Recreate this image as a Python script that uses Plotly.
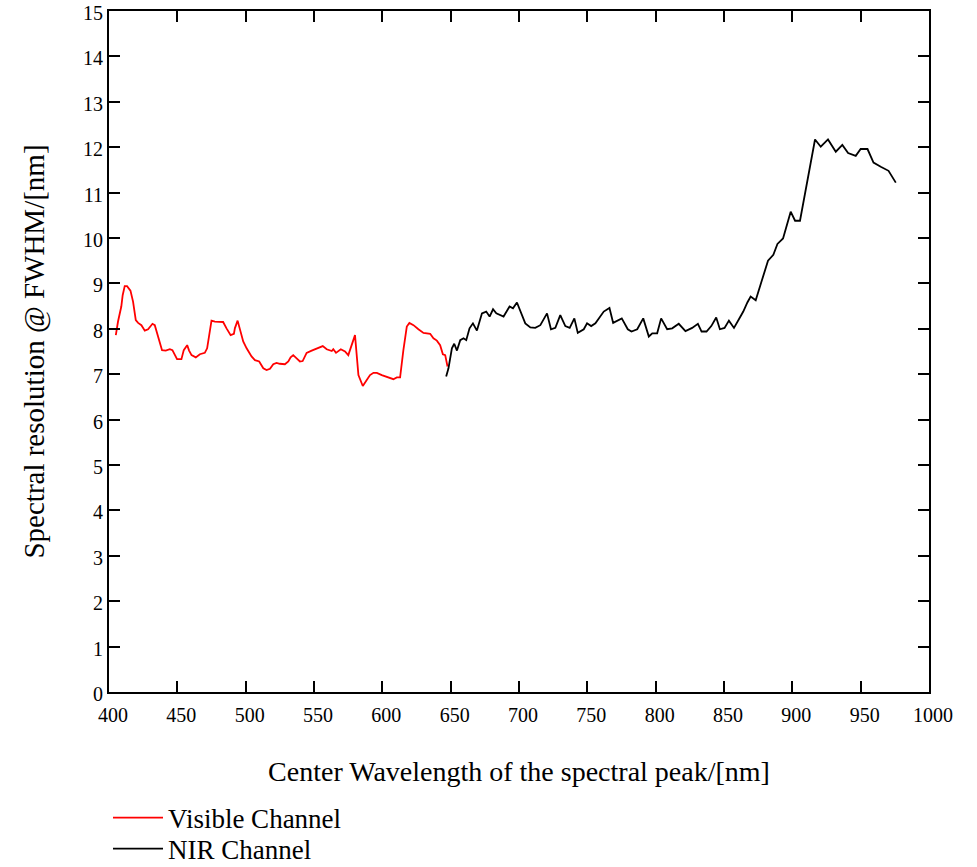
import plotly.graph_objects as go

vis_x = [405, 406.6, 409, 410, 411.5, 413.2, 415.7, 417.6, 419.6, 421.3, 423.7, 426.2, 428.6, 431.8, 433.5,
         435.9, 438.8, 441.5, 444.5, 446.4, 449.8, 453, 454.7, 457.2, 458.6, 460.4, 463.5, 466.5, 470.1, 471.8,
         475, 477.5, 483.5, 486, 489, 491.4, 492.1, 494.1, 495.8, 498.2, 500.7, 504.3, 506.8, 509.9, 512.9,
         515.3, 517.8, 520.2, 522.6, 525, 528.7, 531.2, 532.9, 534.8, 537.3, 539.7, 541.7, 544.6, 548.3, 551.9,
         556.4, 559.3, 563, 564.1, 566.1, 569.6, 572.7, 575.1, 577.6, 580, 582.5, 585.7, 588.6, 591, 593.5,
         596, 599.6, 604.5, 608.1, 610.6, 613, 615.4, 617.9, 619.8, 622.8, 626.4, 630.1, 635, 637.4, 639.9,
         642.3, 644.3, 646, 647.7]
vis_y = [7.86, 8.16, 8.49, 8.74, 8.94, 8.94, 8.84, 8.60, 8.19, 8.13, 8.08, 7.96, 7.99, 8.11, 8.08,
         7.83, 7.53, 7.52, 7.55, 7.53, 7.33, 7.33, 7.53, 7.64, 7.52, 7.42, 7.37, 7.44, 7.47, 7.57,
         8.18, 8.16, 8.15, 8.01, 7.86, 7.89, 8.01, 8.18, 8.01, 7.72, 7.57, 7.39, 7.31, 7.28, 7.13,
         7.09, 7.12, 7.22, 7.25, 7.23, 7.22, 7.28, 7.37, 7.42, 7.35, 7.28, 7.29, 7.47, 7.52, 7.57,
         7.62, 7.55, 7.51, 7.55, 7.47, 7.55, 7.50, 7.42, 7.64, 7.86, 6.98, 6.74, 6.87, 6.98, 7.03,
         7.03, 6.98, 6.92, 6.89, 6.93, 6.93, 7.53, 8.05, 8.13, 8.08, 7.99, 7.91, 7.89, 7.79, 7.74,
         7.64, 7.44, 7.42, 7.17]

nir_x = [646.7, 648.4, 650.9, 652.6, 654.6, 657, 659.4, 661.4, 663.8, 666.3, 669.2, 672.9, 676, 678.5, 681,
         683.4, 688.7, 693.1, 695.6, 698.5, 704.6, 708.3, 711.9, 715.6, 720.5, 723.4, 726.6, 730.2, 733.9, 737.1,
         740.5, 743, 747.4, 749.8, 752.8, 755.9, 762, 766.2, 768.9, 775.2, 779.6, 782.3, 786.5, 790.9, 795,
         797.5, 801.1, 804, 808.4, 812.1, 816.9, 821.8, 826.7, 830.9, 833.6, 837.2, 840.7, 844.3, 847, 850.4,
         853.6, 857.3, 860.9, 864.1, 867.1, 869.5, 873.2, 878, 882.2, 886.1, 889.1, 893.2, 898.8, 902, 905.6,
         916.6, 920.8, 926.1, 931.8, 936.6, 940.8, 946.4, 950, 955, 959.4, 964.7, 970.4, 975.7]
nir_y = [6.95, 7.13, 7.57, 7.67, 7.52, 7.75, 7.79, 7.75, 8.01, 8.12, 7.96, 8.34, 8.38, 8.27, 8.43,
         8.34, 8.27, 8.49, 8.45, 8.58, 8.12, 8.03, 8.02, 8.08, 8.34, 7.99, 8.02, 8.30, 8.06, 8.02,
         8.23, 7.91, 7.99, 8.12, 8.06, 8.12, 8.38, 8.46, 8.13, 8.23, 7.99, 7.94, 7.99, 8.23, 7.83,
         7.90, 7.90, 8.23, 7.99, 8.01, 8.11, 7.95, 8.02, 8.11, 7.94, 7.94, 8.06, 8.25, 7.99, 8.02,
         8.18, 8.02, 8.21, 8.38, 8.58, 8.71, 8.63, 9.07, 9.50, 9.63, 9.87, 9.99, 10.58, 10.38, 10.38,
         12.17, 12.01, 12.17, 11.90, 12.05, 11.87, 11.81, 11.96, 11.96, 11.66, 11.57, 11.48, 11.22]

x_ticks = [400, 450, 500, 550, 600, 650, 700, 750, 800, 850, 900, 950, 1000]
y_ticks = list(range(0, 16))

FONT = "Liberation Serif, Times New Roman, serif"

fig = go.Figure()
fig.add_trace(go.Scatter(x=vis_x, y=vis_y, mode="lines", name="Visible Channel", legend="legend",
                         line=dict(color="#ff0000", width=1.8)))
fig.add_trace(go.Scatter(x=nir_x, y=nir_y, mode="lines", name="NIR Channel", legend="legend2",
                         line=dict(color="#000000", width=1.8)))

axis_common = dict(showgrid=False, zeroline=False, showline=True, linecolor="black", linewidth=2,
                   mirror="ticks", ticks="inside", ticklen=11, tickwidth=1.5, tickcolor="black",
                   ticklabeloverflow="allow",
                   tickfont=dict(family=FONT, size=20, color="black"))

fig.update_xaxes(range=[400, 1000], tickvals=x_ticks, ticktext=[str(v) for v in x_ticks],
                 title=dict(text="Center Wavelength of the spectral peak/[nm]",
                            font=dict(family=FONT, size=28, color="black"), standoff=36),
                 automargin=False, ticklabelshift=4, ticklabelstandoff=4, **axis_common)
fig.update_yaxes(range=[0, 15], tickvals=y_ticks, ticktext=[str(v) for v in y_ticks],
                 title=dict(text="Spectral resolution @ FWHM/[nm]",
                            font=dict(family=FONT, size=29, color="black"), standoff=30),
                 automargin=False, ticklabelshift=2, **axis_common)

leg_common = dict(xref="paper", yref="container", xanchor="left", yanchor="middle",
                  orientation="v", bgcolor="rgba(0,0,0,0)", itemwidth=50,
                  font=dict(family=FONT, size=27, color="black"))

fig.update_layout(
    width=977, height=867,
    margin=dict(l=109, r=48, t=11, b=175),
    plot_bgcolor="white", paper_bgcolor="white",
    font=dict(family=FONT, color="black"),
    legend=dict(x=(108 - 109) / 820, y=1 - 818 / 867, **leg_common),
    legend2=dict(x=(108 - 109) / 820, y=1 - 849 / 867, **leg_common),
    showlegend=True,
)

fig.write_html("out.html")
